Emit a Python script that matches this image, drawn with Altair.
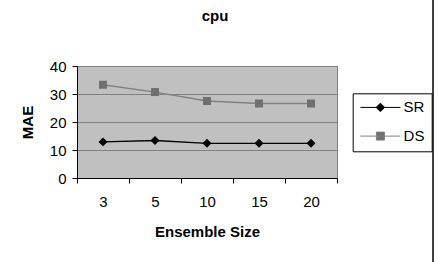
import altair as alt
import pandas as pd

sizes = ["3", "5", "10", "15", "20"]
sr_values = [12.9, 13.4, 12.4, 12.4, 12.4]
ds_values = [33.3, 30.7, 27.5, 26.6, 26.6]
series_names = ["SR", "DS"]
series_colors = ["#000000", "#808080"]
y_ticks = [0, 10, 20, 30, 40]

rows = []
for name, vals in zip(series_names, [sr_values, ds_values]):
    for s, v in zip(sizes, vals):
        rows.append({"size": s, "series": name, "value": v})
df = pd.DataFrame(rows)

FONT = "Liberation Sans"

x_enc = alt.X(
    "size:O", sort=sizes, bandPosition=0.5,
    scale=alt.Scale(type="band", paddingInner=0, paddingOuter=0),
    axis=alt.Axis(title="Ensemble Size", labelAngle=0, tickBand="extent", grid=False,
                  tickSize=5, labelPadding=11, titlePadding=15),
)
y_enc = alt.Y(
    "value:Q", scale=alt.Scale(domain=[0, 40], nice=False),
    axis=alt.Axis(values=y_ticks, title="MAE", grid=True, gridColor="#808080",
                  tickSize=5, labelPadding=6, titlePadding=14),
)

base = alt.Chart(df).encode(x=x_enc, y=y_enc)

path_sr = "M-4,0L4,0M0,-0.85L0.85,0L0,0.85L-0.85,0Z"
path_ds = "M-4,0L4,0M-0.8,-0.8L0.8,-0.8L0.8,0.8L-0.8,0.8Z"

leg = alt.Legend(orient="none", legendX=275.7, legendY=27.3, title=None, direction="vertical",
                 strokeColor="black", fillColor="white", padding=6.6, symbolSize=100,
                 symbolOffset=13.6, labelOffset=15.7, rowPadding=12.7, labelFontSize=15,
                 labelFont=FONT, labelColor="black", symbolStrokeWidth=1, symbolOpacity=1)

legend_layer = base.mark_point(size=0, filled=False).encode(
    fill=alt.Fill("series:N", scale=alt.Scale(domain=series_names, range=["#000000", "#707070"]), legend=leg),
    stroke=alt.Stroke("series:N", scale=alt.Scale(domain=series_names, range=series_colors), legend=leg),
    shape=alt.Shape("series:N", scale=alt.Scale(domain=series_names, range=[path_sr, path_ds]), legend=leg),
)

line = base.mark_line(strokeWidth=1.3).encode(
    color=alt.Color("series:N", scale=alt.Scale(domain=series_names, range=series_colors), legend=None)
)
sr_pts = base.transform_filter(alt.datum.series == "SR").mark_point(
    filled=True, shape="diamond", size=80, color="#000000", opacity=1)
ds_pts = base.transform_filter(alt.datum.series == "DS").mark_point(
    filled=True, shape="square", size=64, color="#707070", opacity=1)

border = alt.Chart(pd.DataFrame({"a": [0]})).mark_rule(color="black", strokeWidth=1.5).encode(
    x=alt.value(356), y=alt.value(-66), y2=alt.value(196)
)

chart = alt.layer(legend_layer, line, sr_pts, ds_pts, border).properties(
    width=260, height=112,
    title=alt.TitleParams("cpu", font=FONT, fontSize=15, fontWeight="bold", anchor="middle",
                          dx=8, offset=0, dy=25, color="black"),
    autosize=alt.AutoSizeParams(type="none"),
    padding={"left": 77, "top": 66, "right": 101, "bottom": 84},
    background="white",
).configure_view(
    fill="#c0c0c0", stroke="#808080", strokeWidth=1
).configure_axis(
    domainColor="black", tickColor="black", labelColor="black", titleColor="black",
    labelFont=FONT, labelFontSize=15, titleFont=FONT, titleFontSize=15, titleFontWeight="bold",
)

chart.save("out.html", embed_options={"renderer": "svg", "actions": False})
